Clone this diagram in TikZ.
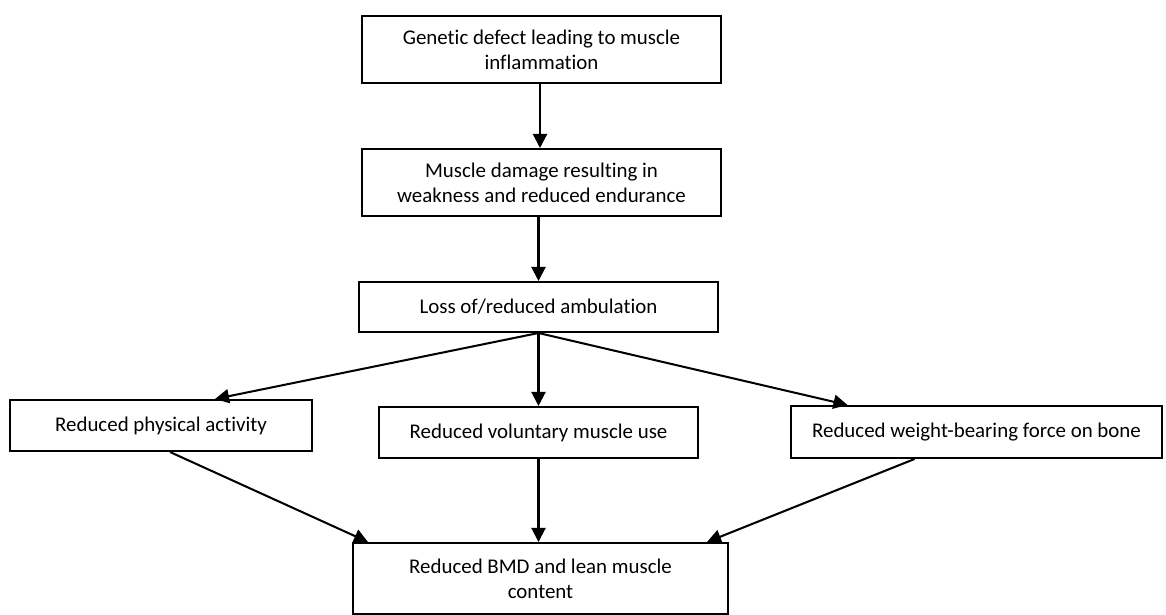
\documentclass[tikz,border=0pt]{standalone}
\usepackage{fontspec}
\setmainfont{Carlito}[Ligatures=NoCommon]
\usetikzlibrary{positioning,arrows.meta,calc}
\tikzset{
  >={Triangle[length=8pt,width=8pt]},
  flowbox/.style={draw, line width=1.15pt, align=center, inner sep=2pt,
    font=\fontsize{11.9}{14.4}\selectfont},
}

\begin{document}
\begin{tikzpicture}[->, line width=1.15pt]
    \useasboundingbox (0,0) rectangle (23.32,-12.3);
    \node[flowbox, minimum width=7.18cm, minimum height=1.34cm] (gen) at (10.83,-0.99)
      {Genetic defect leading to muscle\\inflammation};
    \node[flowbox, minimum width=7.18cm, minimum height=1.34cm] (dam) [below=1.28cm of gen]
      {Muscle damage resulting in\\weakness and reduced endurance};
    \node[flowbox, minimum width=7.18cm, minimum height=1.0cm] (amb) at (10.77,-6.14)
      {Loss of/reduced ambulation};
    \node[flowbox, minimum width=6.04cm, minimum height=1.02cm] (phys) at (3.22,-8.51)
      {Reduced physical activity};
    \node[flowbox, minimum width=6.38cm, minimum height=1.02cm] (vol) at (10.77,-8.65)
      {Reduced voluntary muscle use};
    \node[flowbox, minimum width=7.42cm, minimum height=1.04cm] (wb) at (19.53,-8.64)
      {Reduced weight-bearing force on bone};
    \node[flowbox, minimum width=7.5cm, anchor=north] (bmd) at (10.81,-10.84)
      {\rule{0pt}{0.53cm}Reduced BMD and lean muscle\\content\rule[-0.24cm]{0pt}{0.24cm}};
    \path
      ($(gen.south)+(-0.03,0)$) edge ($(dam.north)+(-0.03,0)$)
      (amb.north |- dam.south) edge (amb.north)
      (amb.south) edge ($(phys.north)+(1.08,0)$)
      (amb.south) edge (vol)
      (amb.south) edge ($(wb.north)+(-2.58,0)$)
      ($(phys.south)+(0.18,0)$) edge ($(bmd.north west)+(0.32,0)$)
      (vol.south) edge (vol.south |- bmd.north)
      ($(wb.south)+(-1.24,0)$) edge ($(bmd.north east)+(-0.44,0)$);
\end{tikzpicture}
\end{document}
